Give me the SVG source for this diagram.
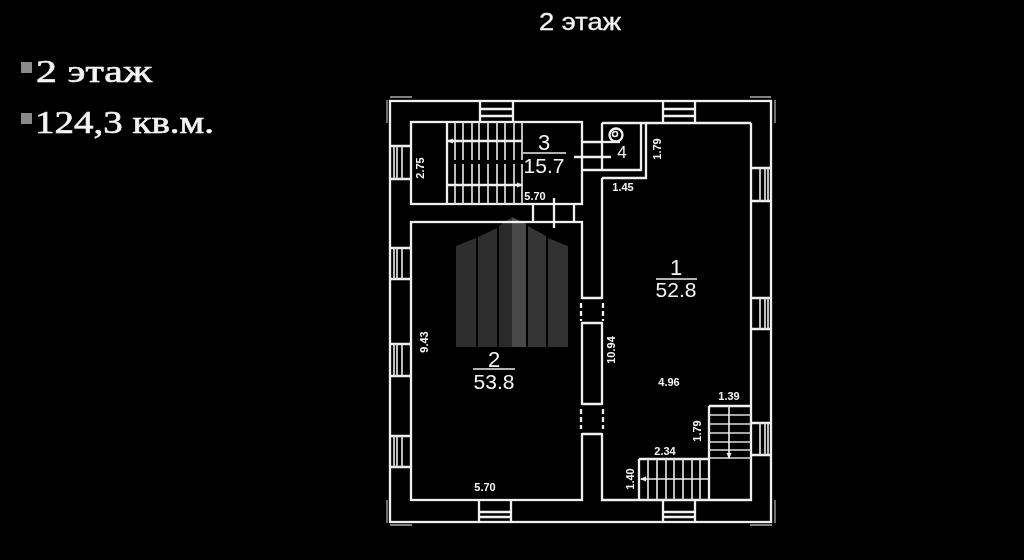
<svg xmlns="http://www.w3.org/2000/svg" width="1024" height="560" viewBox="0 0 1024 560">
<style>
g{filter:url(#soft)}
.w{fill:none;stroke:#f0f0f0;stroke-width:2.300}
.t{stroke-width:1.700;stroke:#ddd;fill:none}
.g{stroke-width:1.300;stroke:#aaa;fill:none}
.l{fill:none;stroke:#eee;stroke-width:1.600}
text{font-family:"Liberation Sans",Arial,sans-serif;fill:#f4f4f4}
.s{font-size:11px;font-weight:bold;text-anchor:middle}
.b{font-size:21px;text-anchor:middle}
.h{font-family:"Liberation Serif","Times New Roman",serif;font-size:32px;stroke:#f4f4f4;stroke-width:.6}
</style>
<defs>
<filter id="soft" x="-5%" y="-5%" width="110%" height="110%"><feGaussianBlur stdDeviation="0.35"/></filter>
<marker id="a" markerUnits="userSpaceOnUse" markerWidth="6" markerHeight="6" refX="5" refY="3" orient="auto"><path d="M0 0.500L6 3L0 5.500Z" fill="#eee"/></marker>
</defs>
<rect width="1024" height="560" fill="#000"/>
<g id="watermark">
<path d="M456 246L476 238V347H456Z" fill="#2f2f2f"/>
<path d="M478 237L497 228V347H478Z" fill="#2e2e2e"/>
<path d="M499 226L512 217V347H499Z" fill="#2a2a2a"/>
<path d="M512 217L526 224V347H512Z" fill="#484848"/>
<path d="M528 226L546 236V347H528Z" fill="#343434"/>
<path d="M548 238L568 246V347H548Z" fill="#303030"/>
</g>
<g id="title"><text x="580" y="30" font-size="24" text-anchor="middle" textLength="82" lengthAdjust="spacingAndGlyphs" stroke="#f4f4f4" stroke-width=".3">2 этаж</text></g>
<g id="bullets">
<rect x="21" y="62" width="11" height="11" fill="#8a8a8a"/>
<rect x="21" y="113" width="11" height="11" fill="#8a8a8a"/>
<text class="h" x="36" y="82" textLength="116" lengthAdjust="spacingAndGlyphs">2 этаж</text>
<text class="h" x="35" y="133" textLength="179" lengthAdjust="spacingAndGlyphs">124,3 кв.м.</text>
</g>
<g id="walls">
<rect class="w" x="390" y="101" width="381" height="421"/>
<path class="g" d="M387 123V100M390 97H412M750 97H771M775 100V123M387 500V523M390 525H412M750 525H772M775 500V523"/>
</g>
<g id="room-3">
<rect class="w" x="411" y="122" width="171" height="82"/>
<path class="w" d="M447 122V204"/>
<path class="t" d="M455 122V160M463 122V160M472 122V160M479 122V160M488 122V160M497 122V160M505 122V160M514 122V160M522 122V160"/>
<path class="t" d="M455 164V204M463 164V204M472 164V204M479 164V204M488 164V204M497 164V204M505 164V204M514 164V204M522 164V204"/>
<path class="w" d="M522 141H448" marker-end="url(#a)"/>
<path class="w" d="M447 185H522" marker-end="url(#a)"/>
<path class="l" d="M523 153H566"/>
<text class="b" x="544" y="150" style="font-size:22px">3</text>
<text class="b" x="544" y="173">15.7</text>
<text class="s" x="535" y="200">5.70</text>
<path class="w" d="M533 204V222M574 204V222M554 198V228"/>
<text class="s" transform="translate(424 168) rotate(-90)">2.75</text>
</g>
<g id="room-4">
<path class="w" d="M582 142H602M574 157H611M582 170H641V123M646 123V178H602M602 170V123M602 123H751"/>
<circle cx="616" cy="135" r="6.500" class="w"/>
<circle cx="615" cy="134" r="2.500" class="l"/>
<path class="w" d="M602 142H620"/>
<text x="622" y="158" font-size="17" text-anchor="middle">4</text>
<text class="s" transform="translate(661 149) rotate(-90)">1.79</text>
<text class="s" x="623" y="191">1.45</text>
</g>
<g id="room-1">
<path class="w" d="M602 178V500H751V123"/>
<text class="b" x="676" y="275" style="font-size:22px">1</text>
<path class="l" d="M656 279H697"/>
<text class="b" x="676" y="297">52.8</text>
<text class="s" transform="translate(615 350) rotate(-90)">10.94</text>
<text class="s" x="669" y="386">4.96</text>
</g>
<g id="stairs">
<path class="w" d="M709 406H751M709 406V500M639 459H709M639 459V500"/>
<path class="t" d="M709 415H751M709 424H751M709 433H751M709 442H751M709 450H751M709 458H751"/>
<path class="l" d="M729 407V458" marker-end="url(#a)"/>
<path class="t" d="M648 459V500M657 459V500M666 459V500M674 459V500M683 459V500M692 459V500M700 459V500"/>
<path class="l" d="M709 479H641" marker-end="url(#a)"/>
<text class="s" x="729" y="400">1.39</text>
<text class="s" x="665" y="455">2.34</text>
<text class="s" transform="translate(701 431) rotate(-90)">1.79</text>
<text class="s" transform="translate(634 479) rotate(-90)">1.40</text>
</g>
<g id="room-2">
<rect class="w" x="411" y="222" width="171" height="278"/>
<text class="s" transform="translate(428 342) rotate(-90)">9.43</text>
<text class="b" x="494" y="367" style="font-size:22px">2</text>
<path class="l" d="M473 369H515"/>
<text class="b" x="494" y="389">53.8</text>
<text class="s" x="485" y="491">5.70</text>
</g>
<g id="windows">
<path class="w" d="M480 101V122M513 101V122M480 109H513M480 116H513"/>
<path class="w" d="M663 101V122M695 101V122M663 109H695M663 116H695"/>
<path class="w" d="M390 146H411M390 179H411M390 248H411M390 279H411M390 344H411M390 376H411M390 436H411M390 467H411"/>
<path class="t" d="M394 146V179M397 146V179M402 146V179M394 248V279M397 248V279M402 248V279M394 344V376M397 344V376M402 344V376M394 436V467M397 436V467M402 436V467"/>
<path class="w" d="M751 168H771M751 201H771M751 298H771M751 329H771M751 423H771M751 455H771"/>
<path class="t" d="M760 168V201M765 168V201M768 168V201M760 298V329M765 298V329M768 298V329M760 423V455M765 423V455M768 423V455"/>
<path class="w" d="M479 500V522M511 500V522M479 512H511M479 517H511"/>
<path class="w" d="M663 500V522M695 500V522M663 512H695M663 517H695"/>
</g>
<g id="doors">
<rect x="579" y="299" width="26" height="23" fill="#000"/>
<rect x="579" y="405" width="26" height="28" fill="#000"/>
<path class="w" d="M582 298H602M582 323H602M582 404H602M582 434H602"/>
<path class="w" d="M581 303V321M603 303V321M581 409V429M603 409V429" stroke-dasharray="5 3"/>
</g>
</svg>
